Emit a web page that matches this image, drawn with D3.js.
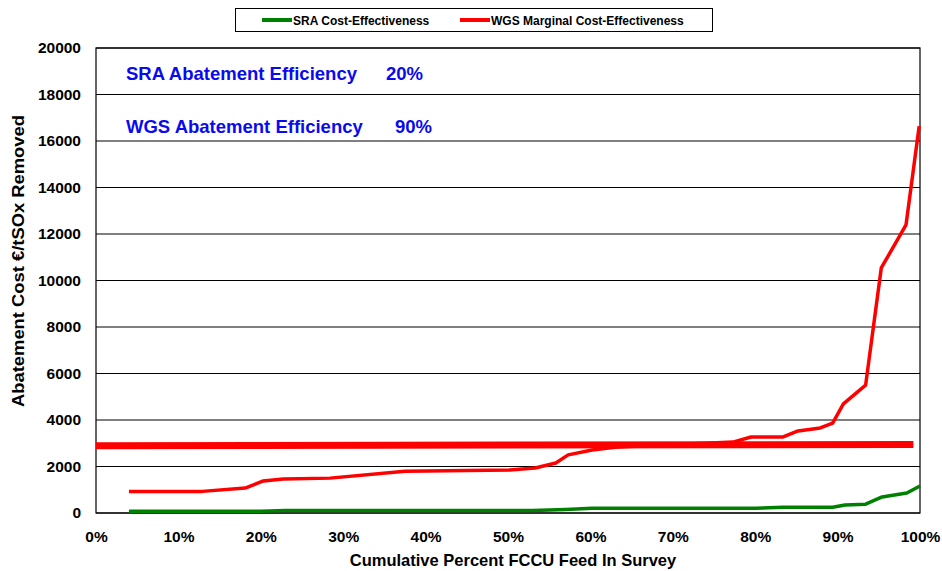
<!DOCTYPE html>
<html>
<head>
<meta charset="utf-8">
<script src="https://cdn.jsdelivr.net/npm/d3@7"></script>
<style>
  body { margin: 0; background: #fff; }
  svg { display: block; font-family: Arial, "Liberation Sans", sans-serif; }
</style>
</head>
<body>
<svg width="942" height="571"></svg>
<script>
// data (x = cumulative % of FCCU feed, y = €/t SOx)
const sraX = [4, 20, 23, 53, 57, 60.2, 80, 83.4, 89.4, 90.9, 93.4, 95.4, 98.4, 100];
const sraY = [70, 70, 110, 110, 150, 200, 200, 250, 250, 340, 380, 690, 860, 1160];

const wgsX = [4, 12.9, 18.1, 20.3, 22.7, 28.4, 37.5, 50.2, 53.3, 55.8, 57.3, 60.2, 63, 67, 70, 74, 77.3, 79.5, 83.4, 85.2, 87.9, 89.4, 90.7, 93.4, 95.3, 98.3, 99.9];
const wgsY = [930, 930, 1075, 1380, 1460, 1500, 1800, 1850, 1935, 2150, 2500, 2710, 2830, 2900, 2950, 3000, 3050, 3270, 3270, 3530, 3660, 3870, 4690, 5500, 10540, 12390, 16640];

// flat reference line (thick red)
const refX = [0, 99.2];
const refY = [2890, 2950];

const yTicks = d3.range(0, 20001, 2000);
const xTicks = d3.range(0, 101, 10);

const svg = d3.select("svg");
const margin = { top: 48, right: 22, bottom: 58, left: 96 };
const width = 942 - margin.left - margin.right;
const height = 571 - margin.top - margin.bottom;

const g = svg.append("g").attr("transform", `translate(${margin.left},${margin.top})`);

const x = d3.scaleLinear().domain([0, 100]).range([0, width]);
const y = d3.scaleLinear().domain([0, 20000]).range([height, 0]);

// horizontal gridlines
g.append("g")
  .selectAll("line")
  .data(yTicks)
  .join("line")
  .attr("x1", 0).attr("x2", width)
  .attr("y1", d => y(d)).attr("y2", d => y(d))
  .attr("stroke", "#000").attr("stroke-width", 1);

// plot frame
g.append("rect")
  .attr("width", width).attr("height", height)
  .attr("fill", "none").attr("stroke", "#000").attr("stroke-width", 1.2);

// axes
const yAxis = d3.axisLeft(y).tickValues(yTicks).tickSize(0).tickPadding(15).tickFormat(d3.format("d"));
g.append("g").call(yAxis)
  .call(s => s.select(".domain").remove())
  .selectAll("text")
  .attr("font-size", 15.5).attr("font-weight", "bold").attr("fill", "#000");

const xAxis = d3.axisBottom(x).tickValues(xTicks).tickSize(0).tickPadding(18).tickFormat(d => d + "%");
g.append("g").attr("transform", `translate(0,${height})`).call(xAxis)
  .call(s => s.select(".domain").remove())
  .selectAll("text")
  .attr("font-size", 15.5).attr("font-weight", "bold").attr("fill", "#000");

// axis titles
svg.append("text")
  .attr("x", 513).attr("y", 566)
  .attr("text-anchor", "middle")
  .attr("font-size", 16.5).attr("font-weight", "bold")
  .text("Cumulative Percent FCCU Feed In Survey");

svg.append("text")
  .attr("transform", `translate(24,261) rotate(-90)`)
  .attr("text-anchor", "middle")
  .attr("font-size", 16.5).attr("font-weight", "bold")
  .attr("textLength", 292).attr("lengthAdjust", "spacingAndGlyphs")
  .text("Abatement Cost €/tSOx Removed");

// lines
const line = d3.line().x(d => x(d[0])).y(d => y(d[1]));

g.append("path")
  .datum(d3.zip(refX, refY))
  .attr("d", line)
  .attr("fill", "none").attr("stroke", "#ff0000").attr("stroke-width", 7);

g.append("path")
  .datum(d3.zip(wgsX, wgsY))
  .attr("d", line)
  .attr("fill", "none").attr("stroke", "#ff0000").attr("stroke-width", 3.5)
  .attr("stroke-linejoin", "round");

g.append("path")
  .datum(d3.zip(sraX, sraY))
  .attr("d", line)
  .attr("fill", "none").attr("stroke", "#008000").attr("stroke-width", 3.5)
  .attr("stroke-linejoin", "round");

// annotations
const notes = [
  { label: "SRA Abatement Efficiency", value: "20%", ty: 80, vx: 386 },
  { label: "WGS Abatement Efficiency", value: "90%", ty: 133, vx: 395 }
];
notes.forEach(n => {
  svg.append("text").attr("x", 126).attr("y", n.ty)
    .attr("font-size", 18.5).attr("font-weight", "bold").attr("fill", "#0a0af0")
    .text(n.label);
  svg.append("text").attr("x", n.vx).attr("y", n.ty)
    .attr("font-size", 18.5).attr("font-weight", "bold").attr("fill", "#0a0af0")
    .text(n.value);
});

// legend
const legend = svg.append("g");
legend.append("rect")
  .attr("x", 235.5).attr("y", 8.5).attr("width", 477).attr("height", 23)
  .attr("fill", "#fff").attr("stroke", "#000").attr("stroke-width", 1);
const legendItems = [
  { name: "SRA Cost-Effectiveness", color: "#008000", x: 262 },
  { name: "WGS Marginal Cost-Effectiveness", color: "#ff0000", x: 460 }
];
legendItems.forEach(it => {
  legend.append("line")
    .attr("x1", it.x).attr("x2", it.x + 30).attr("y1", 20).attr("y2", 20)
    .attr("stroke", it.color).attr("stroke-width", 4);
  legend.append("text")
    .attr("x", it.x + 31).attr("y", 24.5)
    .attr("font-size", 12).attr("font-weight", "bold")
    .text(it.name);
});
</script>
</body>
</html>
